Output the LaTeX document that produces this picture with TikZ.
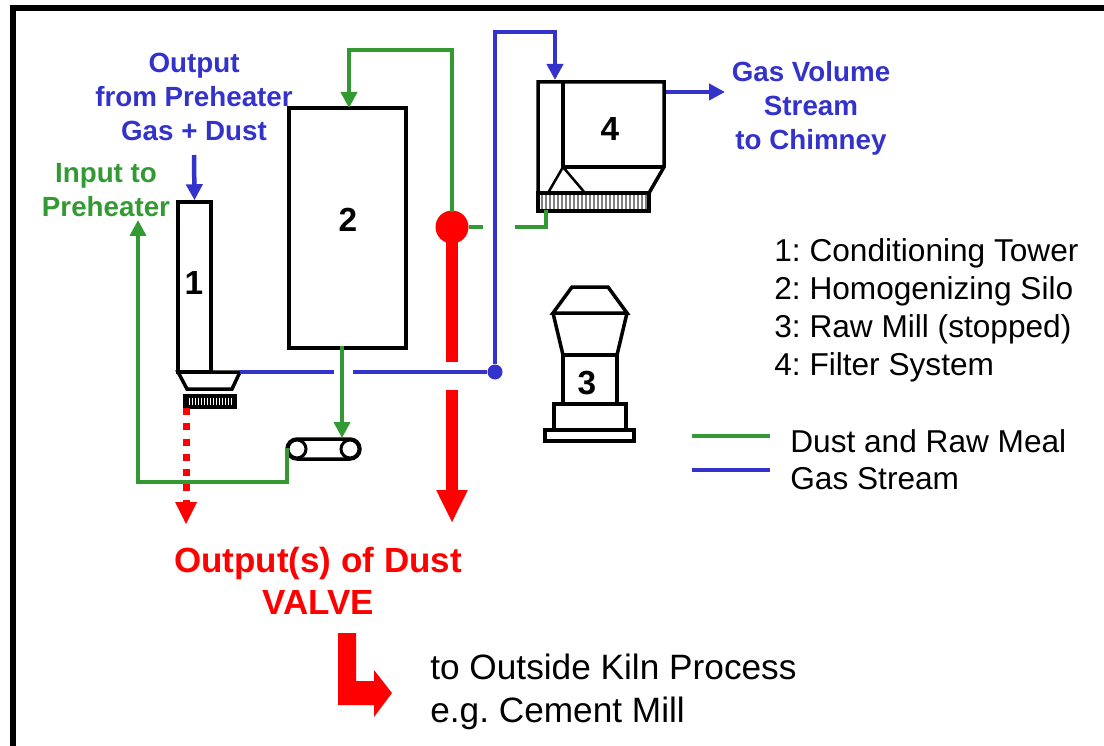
\documentclass[tikz,border=0pt]{standalone}
\usepackage{fontspec}
\setmainfont{Liberation Sans}
\usetikzlibrary{arrows.meta}
\definecolor{vert}{RGB}{51,153,51}
\definecolor{bleu}{RGB}{51,51,204}
\begin{document}
\frenchspacing
\begin{tikzpicture}[x=0.02cm, y=-0.02cm]
\tikzset{boite/.style={draw, line width=0.07cm, inner sep=0pt, font=\fontsize{19}{23}\selectfont\bfseries}}
\tikzset{chiffre/.style={inner sep=0pt, font=\fontsize{19}{23}\selectfont\bfseries}}
\tikzset{trait/.style={line width=0.07cm, line join=miter}}
\tikzset{vertligne/.style={draw=vert, line width=0.09cm}}
\tikzset{bleuligne/.style={draw=bleu, line width=0.09cm}}
\tikzset{fleche/.style={-{Triangle[length=0.32cm, width=0.32cm]}}}
\tikzset{etiquette/.style={align=center, inner sep=0pt, font=\fontsize{15.8}{19.4}\selectfont\bfseries}}
\tikzset{texte/.style={align=left, inner sep=0pt, anchor=west, font=\fontsize{18}{21.6}\selectfont}}
\useasboundingbox (0,0) rectangle (1104,746);
\draw[line width=0.11cm] (1104,8) -- (13,8) -- (13,746);
\node[boite, minimum width=0.66cm, minimum height=3.4cm] (T1) at (194.5,287) {};
\node[chiffre] (N1) at (194,283) {1};
\node[boite, minimum width=2.34cm, minimum height=4.8cm] (T2) at (347.5,228) {};
\node[chiffre] (N2) at (348,220) {2};
\node[boite, minimum width=1.0cm, minimum height=0.22cm] (H1) at (210,401.5) {};
\foreach \x in {188,191,...,233} \draw[line width=0.03cm] (\x,396) -- (\x,407);
\draw[trait] (178,372) -- (240,372) -- (232,389) -- (187,389) -- cycle;
\node[boite, minimum width=2.22cm, minimum height=0.36cm, fill=white] (H4) at (593.5,202) {};
\foreach \x in {542,546,...,646} \draw[line width=0.03cm, gray] (\x,195) -- (\x,209);
\draw[trait] (538,193) -- (538,82) -- (664,82) -- (664,167) -- (649,193);
\draw[trait] (563,82) -- (563,167) -- (664,167);
\draw[line width=0.05cm] (548,193) -- (563,167) -- (585,193);
\node[chiffre] (N4) at (610,129) {4};
\draw[trait] (572,287) -- (608,287) -- (627,313) -- (553,313) -- cycle;
\draw[trait] (553,313) -- (563,355) -- (617,355) -- (627,313);
\node[boite, minimum width=1.08cm, minimum height=0.98cm] (C3) at (590,379.5) {};
\node[chiffre] (N3) at (587,383) {3};
\node[boite, minimum width=1.44cm, minimum height=0.52cm] (B3) at (590,417) {};
\node[boite, minimum width=1.78cm, minimum height=0.22cm] (S3) at (589.5,435.5) {};
\draw[trait, rounded corners=0.2cm] (287,439) rectangle (360,459);
\node[boite, circle, minimum size=0.36cm, line width=0.06cm, fill=white] (R1) at (297,449) {};
\node[boite, circle, minimum size=0.36cm, line width=0.06cm, fill=white] (R2) at (350,449) {};
\coordinate (A1) at (194,155);
\coordinate (A2) at (452,212);
\coordinate (A3) at (349,50);
\coordinate (A4) at (349,108);
\coordinate (A5) at (495,32);
\coordinate (A6) at (555,32);
\coordinate (A7) at (555,80);
\coordinate (A8) at (666,92);
\coordinate (A9) at (725,92);
\coordinate (B1) at (240,372);
\coordinate (B2) at (334,372);
\coordinate (B4) at (353,372);
\coordinate (G1) at (287,448);
\coordinate (G2) at (287,482);
\coordinate (G3) at (138,482);
\coordinate (G4) at (138,220);
\coordinate (G5) at (342,346);
\coordinate (G6) at (342,438);
\coordinate (G7) at (483,227);
\coordinate (G8) at (515,227);
\coordinate (G9) at (546,227);
\coordinate (G10) at (546,210);
\coordinate (R3) at (452,362);
\coordinate (R4) at (452,390);
\coordinate (R5) at (452,523);
\coordinate (D1) at (186,408);
\coordinate (D2) at (186,502);
\node[circle, fill=bleu, inner sep=0pt, minimum size=0.3cm] (J1) at (495,372) {};
\node[circle, fill=red, inner sep=0pt, outer sep=0pt, minimum size=0.66cm] (V1) at (452,227) {};
\draw[draw=red, line width=0.24cm] (V1.center) -- (R3);
\draw[draw=red, line width=0.24cm, -{Triangle[length=0.66cm, width=0.58cm]}] (R4) -- (R5);
\draw[draw=red, line width=0.14cm, dash pattern=on 0.14cm off 0.166cm] (D1) -- (D2);
\draw[draw=none, fill=red] (175,502) -- (197,502) -- (186,524) -- cycle;
\draw[bleuligne, fleche] (A1) -- (T1.north);
\draw[vertligne, fleche] (A2) -- (452,50) -- (A3) -- (A4);
\draw[bleuligne, fleche] (J1) -- (A5) -- (A6) -- (A7);
\draw[bleuligne, fleche] (A8) -- (A9);
\draw[bleuligne] (B1) -- (B2);
\draw[bleuligne] (B4) -- (J1);
\draw[vertligne, fleche] (G1) -- (G2) -- (G3) -- (G4);
\draw[vertligne, fleche] (G5) -- (G6);
\draw[vertligne] (V1) -- (G7);
\draw[vertligne] (G8) -- (G9) -- (G10);
\draw[fill=red, draw=none] (338,633) -- (356,633) -- (356,681) -- (374,681) -- (374,670) -- (392,693) -- (374,717) -- (374,705) -- (338,705) -- cycle;
\node[etiquette, text=bleu] (L1) at (194,97) {Output\\from Preheater\\Gas + Dust};
\node[etiquette, text=vert] (L2) at (106,190) {Input to\\Preheater};
\node[etiquette, text=bleu] (L3) at (811,108) {Gas Volume\\Stream\\to Chimney};
\node[etiquette, text=red, font=\fontsize{19.9}{24}\selectfont\bfseries] (L4) at (318,581) {Output(s) of Dust\\VALVE};
\node[texte, font=\fontsize{20.05}{24.6}\selectfont] (L5) at (430,692) {to Outside Kiln Process\\e.g. Cement Mill};
\node[texte] (P1) at (774,253) {1: Conditioning Tower};
\node[texte] (P2) at (774,291) {2: Homogenizing Silo};
\node[texte] (P3) at (774,329) {3: Raw Mill (stopped)};
\node[texte] (P4) at (774,367) {4: Filter System};
\node[texte] (E1) at (790,441) {Dust and Raw Meal};
\node[texte] (E2) at (790,479) {Gas Stream};
\coordinate (E3) at (692,436);
\coordinate (E4) at (770,436);
\coordinate (E5) at (692,470);
\coordinate (E6) at (770,470);
\draw[vertligne] (E3) -- (E4);
\draw[bleuligne] (E5) -- (E6);
\end{tikzpicture}
\end{document}
